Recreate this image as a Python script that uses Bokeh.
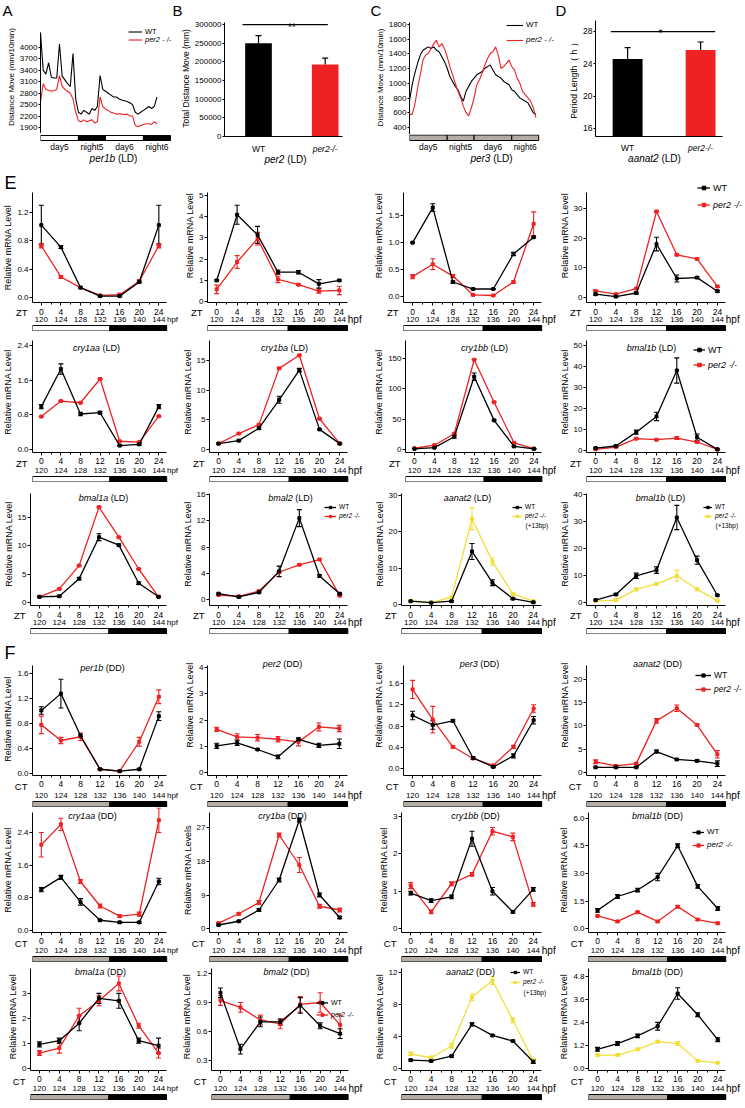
from bokeh.plotting import figure
from bokeh.layouts import row, column
from bokeh.models import (Range1d, FixedTicker, Label, Legend, LegendItem, Title,
                          Whisker, ColumnDataSource, TeeHead, NumeralTickFormatter)
from bokeh.core.properties import value
from bokeh.embed import file_html
from bokeh.resources import INLINE

FONT = "Liberation Sans"
BLACK = "#000000"
RED = "#ee2222"
YEL = "#f2de3a"
GRAY = "#b3aca4"

# ---------------------------------------------------------------- data
ZT = [0, 4, 8, 12, 16, 20, 24]
HPF = [120, 124, 128, 132, 136, 140, 144]
LIGHTS_OFF = 14

A_HOURS = list(range(44))
A_WT = [4390, 3400, 3300, 3600, 3220, 3200, 3200, 4090, 3250, 3150, 3050, 2980, 3840, 2650,
        2300, 2250, 2350, 2300, 2250, 2400, 2350, 2450, 3265, 2900, 2850, 2800, 2750, 2700,
        2700, 2650, 2620, 2600, 2580, 2550, 2500, 2300, 2250, 2300, 2350, 2400, 2450, 2400,
        2450, 2700]
A_MUT = [2580, 3050, 2900, 2880, 2850, 2870, 2900, 3260, 2980, 2900, 2850, 2800, 2650, 2300,
         2080, 2050, 2100, 2050, 2080, 2100, 2020, 2050, 2700, 2450, 2380, 2350, 2300, 2280,
         2250, 2260, 2250, 2240, 2250, 2200, 2200, 1950, 1920, 1950, 1980, 2000, 2000, 1980,
         2050, 2000]
A_YTICKS = [1900, 2200, 2500, 2800, 3100, 3400, 3700, 4000]
PHASE_EDGES = [0, 14, 24, 38, 48]
PHASE_NAMES = ["day5", "night5", "day6", "night6"]

B_GROUPS = ["WT", "per2-/-"]
B_MEAN = [250000, 193000]
B_SD = [20000, 17000]
B_YTICKS = [0, 50000, 100000, 150000, 200000, 250000, 300000]

C_HOURS = list(range(48))
C_WT = [760, 982, 1138, 1272, 1384, 1451, 1473, 1496, 1473, 1496, 1451, 1429, 1362, 1295,
        1205, 1093, 1026, 959, 914, 825, 758, 892, 959, 1026, 1071, 1116, 1138, 1160, 1205,
        1227, 1250, 1183, 1116, 1093, 1071, 1026, 1004, 982, 914, 892, 847, 803, 780, 758,
        735, 668, 601, 579]
C_MUT = [579, 579, 713, 937, 1116, 1317, 1384, 1406, 1473, 1540, 1585, 1496, 1540, 1473,
         1362, 1227, 1116, 1004, 892, 803, 691, 601, 557, 668, 803, 982, 1049, 1138, 1250,
         1339, 1406, 1429, 1496, 1384, 1205, 1227, 1272, 1317, 1227, 1183, 1071, 1004, 892,
         847, 803, 758, 668, 534]
C_YTICKS = [400, 600, 800, 1000, 1200, 1400, 1600, 1800]

D_MEAN = [24.6, 25.7]
D_SD = [1.4, 1.0]
D_YTICKS = [16, 20, 24, 28]

# E: LD
E_PER1B_WT = [1.02, 0.71, 0.14, 0.02, 0.02, 0.22, 1.02]
E_PER1B_WT_SD = [0.28, 0.02, 0.01, 0.01, 0.01, 0.01, 0.28]
E_PER1B_MUT = [0.73, 0.29, 0.14, 0.03, 0.04, 0.23, 0.73]
E_PER1B_MUT_SD = [0.03, 0.02, 0.01, 0.01, 0.02, 0.02, 0.03]

E_PER2_WT = [0.99, 4.09, 3.14, 1.38, 1.38, 0.83, 0.99]
E_PER2_WT_SD = [0.03, 0.45, 0.40, 0.10, 0.08, 0.20, 0.03]
E_PER2_MUT = [0.57, 1.86, 2.96, 1.04, 0.79, 0.49, 0.52]
E_PER2_MUT_SD = [0.20, 0.30, 0.30, 0.15, 0.04, 0.10, 0.20]

E_PER3_WT = [1.00, 1.65, 0.27, 0.14, 0.14, 0.79, 1.10]
E_PER3_WT_SD = [0.01, 0.07, 0.02, 0.01, 0.01, 0.03, 0.01]
E_PER3_MUT = [0.37, 0.60, 0.38, 0.03, 0.02, 0.27, 1.35]
E_PER3_MUT_SD = [0.04, 0.10, 0.03, 0.01, 0.01, 0.02, 0.22]

E_AANAT2_WT = [1.1, 0.3, 1.5, 18.0, 6.4, 6.7, 2.1]
E_AANAT2_WT_SD = [0.3, 0.2, 0.3, 2.3, 1.2, 0.3, 0.3]
E_AANAT2_MUT = [2.2, 1.1, 3.0, 29.0, 14.4, 13.0, 3.7]
E_AANAT2_MUT_SD = [0.2, 0.2, 0.2, 0.3, 0.3, 0.3, 0.3]

E_CRY1AA_WT = [0.99, 1.86, 0.82, 0.85, 0.09, 0.12, 0.99]
E_CRY1AA_WT_SD = [0.05, 0.12, 0.04, 0.03, 0.01, 0.02, 0.05]
E_CRY1AA_MUT = [0.76, 1.12, 1.08, 1.63, 0.19, 0.17, 0.77]
E_CRY1AA_MUT_SD = [0.01, 0.01, 0.01, 0.01, 0.01, 0.01, 0.01]

E_CRY1BA_WT = [1.0, 1.5, 3.6, 8.4, 13.4, 3.4, 1.0]
E_CRY1BA_WT_SD = [0.1, 0.1, 0.2, 0.6, 0.3, 0.1, 0.1]
E_CRY1BA_MUT = [1.0, 2.7, 4.2, 13.7, 15.9, 5.2, 1.0]
E_CRY1BA_MUT_SD = [0.1, 0.1, 0.1, 0.1, 0.1, 0.1, 0.1]

E_CRY1BB_WT = [1, 3, 21, 120, 48, 5, 1]
E_CRY1BB_WT_SD = [0.5, 0.5, 2, 6, 1, 0.5, 0.5]
E_CRY1BB_MUT = [2, 7, 26, 148, 78, 11, 1.5]
E_CRY1BB_MUT_SD = [0.5, 0.5, 0.5, 0.5, 0.5, 0.5, 0.5]

E_BMAL1B_WT = [1.1, 2.1, 8.7, 16.2, 38.1, 6.3, 0.5]
E_BMAL1B_WT_SD = [0.3, 0.3, 1.0, 2.0, 6.0, 1.5, 0.3]
E_BMAL1B_MUT = [0.5, 1.6, 5.6, 5.1, 5.9, 4.0, 0.5]
E_BMAL1B_MUT_SD = [0.2, 0.2, 0.3, 0.3, 0.7, 0.3, 0.2]

E_BMAL1A_WT = [1.0, 1.1, 4.2, 11.5, 10.1, 3.4, 1.0]
E_BMAL1A_WT_SD = [0.1, 0.1, 0.2, 0.6, 0.2, 0.2, 0.1]
E_BMAL1A_MUT = [1.0, 2.4, 6.5, 16.8, 11.5, 5.9, 1.0]
E_BMAL1A_MUT_SD = [0.1, 0.1, 0.1, 0.1, 0.1, 0.1, 0.1]

E_BMAL2_WT = [0.9, 0.4, 1.1, 4.3, 12.4, 3.6, 0.9]
E_BMAL2_WT_SD = [0.1, 0.1, 0.1, 0.8, 1.3, 0.2, 0.1]
E_BMAL2_MUT = [0.7, 0.5, 1.3, 4.2, 5.3, 6.1, 0.6]
E_BMAL2_MUT_SD = [0.1, 0.1, 0.1, 0.1, 0.1, 0.1, 0.1]

E_AANAT2B_WT = [0.9, 0.5, 0.9, 14.6, 6.0, 1.6, 0.6]
E_AANAT2B_WT_SD = [0.2, 0.1, 0.2, 2.2, 0.8, 0.2, 0.2]
E_AANAT2B_MUT = [1.0, 0.5, 2.0, 23.6, 11.8, 2.9, 0.9]
E_AANAT2B_MUT_SD = [0.2, 0.1, 0.3, 3.0, 1.0, 0.3, 0.2]

E_BMAL1BB_WT = [0.9, 3.0, 9.9, 12.0, 31.5, 15.7, 2.7]
E_BMAL1BB_WT_SD = [0.3, 0.3, 1.0, 1.2, 4.5, 1.5, 0.3]
E_BMAL1BB_MUT = [0.6, 0.9, 4.9, 6.9, 9.9, 4.9, 0.7]
E_BMAL1BB_MUT_SD = [0.2, 0.2, 0.5, 0.5, 2.0, 0.4, 0.2]

# F: DD
F_PER1B_WT = [1.01, 1.28, 0.61, 0.07, 0.04, 0.07, 0.92]
F_PER1B_WT_SD = [0.06, 0.23, 0.02, 0.01, 0.01, 0.01, 0.07]
F_PER1B_MUT = [0.78, 0.53, 0.59, 0.07, 0.04, 0.51, 1.23]
F_PER1B_MUT_SD = [0.14, 0.05, 0.06, 0.01, 0.01, 0.07, 0.11]

F_PER2_WT = [1.02, 1.13, 0.88, 0.60, 1.27, 1.04, 1.10]
F_PER2_WT_SD = [0.10, 0.10, 0.03, 0.07, 0.05, 0.08, 0.18]
F_PER2_MUT = [1.65, 1.36, 1.33, 1.27, 1.17, 1.74, 1.68]
F_PER2_MUT_SD = [0.08, 0.12, 0.12, 0.10, 0.15, 0.15, 0.12]

F_PER3_WT = [1.00, 0.82, 0.90, 0.20, 0.03, 0.24, 0.91]
F_PER3_WT_SD = [0.08, 0.08, 0.02, 0.02, 0.01, 0.04, 0.07]
F_PER3_MUT = [1.49, 0.92, 0.41, 0.19, 0.06, 0.41, 1.13]
F_PER3_MUT_SD = [0.17, 0.25, 0.02, 0.02, 0.01, 0.03, 0.07]

F_AANAT2_WT = [1.1, 1.1, 1.1, 4.5, 2.8, 2.5, 1.9]
F_AANAT2_WT_SD = [0.1, 0.1, 0.1, 0.3, 0.1, 0.2, 0.6]
F_AANAT2_MUT = [2.3, 1.4, 1.9, 11.1, 13.8, 10.2, 3.9]
F_AANAT2_MUT_SD = [0.4, 0.2, 0.2, 0.5, 0.7, 0.2, 0.8]

F_CRY1AA_WT = [1.0, 1.3, 0.7, 0.25, 0.2, 0.2, 1.2]
F_CRY1AA_WT_SD = [0.05, 0.05, 0.08, 0.02, 0.02, 0.02, 0.08]
F_CRY1AA_MUT = [2.1, 2.6, 1.2, 0.6, 0.35, 0.4, 2.7]
F_CRY1AA_MUT_SD = [0.3, 0.15, 0.05, 0.05, 0.03, 0.05, 0.3]

F_CRY1BA_WT = [1, 2, 5, 13, 29, 9, 3]
F_CRY1BA_WT_SD = [0.2, 0.2, 0.3, 0.5, 0.5, 0.5, 0.3]
F_CRY1BA_MUT = [1.5, 4, 7, 25, 17, 6, 5]
F_CRY1BA_MUT_SD = [0.2, 0.3, 0.5, 0.5, 2, 0.5, 0.5]

F_CRY1BB_WT = [0.95, 0.75, 0.85, 2.4, 1.0, 0.45, 1.05]
F_CRY1BB_WT_SD = [0.05, 0.05, 0.05, 0.2, 0.1, 0.03, 0.05]
F_CRY1BB_MUT = [1.15, 0.45, 1.2, 1.45, 2.6, 2.45, 0.65]
F_CRY1BB_MUT_SD = [0.08, 0.05, 0.05, 0.05, 0.1, 0.1, 0.05]

F_BMAL1B_WT = [1.0, 1.75, 2.1, 2.8, 4.5, 2.3, 1.1]
F_BMAL1B_WT_SD = [0.1, 0.1, 0.1, 0.2, 0.1, 0.1, 0.1]
F_BMAL1B_MUT = [0.7, 0.4, 0.9, 0.4, 1.2, 0.5, 0.3]
F_BMAL1B_MUT_SD = [0.05, 0.05, 0.05, 0.05, 0.05, 0.05, 0.05]

F_BMAL1A_WT = [0.95, 1.1, 1.8, 2.8, 2.7, 1.1, 0.9]
F_BMAL1A_WT_SD = [0.1, 0.1, 0.3, 0.2, 0.3, 0.1, 0.3]
F_BMAL1A_MUT = [0.6, 0.8, 2.1, 2.7, 3.4, 1.7, 0.6]
F_BMAL1A_MUT_SD = [0.1, 0.2, 0.3, 0.2, 0.3, 0.1, 0.2]

F_BMAL2_WT = [1.0, 0.42, 0.7, 0.7, 0.87, 0.66, 0.58]
F_BMAL2_WT_SD = [0.05, 0.05, 0.05, 0.03, 0.08, 0.03, 0.05]
F_BMAL2_MUT = [0.92, 0.85, 0.72, 0.68, 0.88, 0.9, 0.67]
F_BMAL2_MUT_SD = [0.05, 0.05, 0.05, 0.05, 0.08, 0.1, 0.1]

F_AANAT2B_WT = [1.0, 0.9, 1.5, 5.5, 4.1, 3.4, 0.8]
F_AANAT2B_WT_SD = [0.1, 0.1, 0.1, 0.2, 0.1, 0.1, 0.2]
F_AANAT2B_MUT = [1.8, 1.3, 2.8, 8.9, 11.0, 6.0, 0.9]
F_AANAT2B_MUT_SD = [0.2, 0.2, 0.3, 0.4, 0.5, 0.3, 0.3]

F_BMAL1BB_WT = [1.0, 1.3, 1.7, 2.2, 3.9, 2.8, 1.5]
F_BMAL1BB_WT_SD = [0.1, 0.1, 0.1, 0.2, 0.3, 0.1, 0.1]
F_BMAL1BB_MUT = [0.7, 0.7, 1.0, 1.4, 1.3, 0.4, 0.3]
F_BMAL1BB_MUT_SD = [0.05, 0.05, 0.05, 0.05, 0.1, 0.05, 0.03]

# ---------------------------------------------------------------- geometry (page px)
COL_X = [0, 179, 371, 556]
COL_W = [179, 192, 185, 189]
FRAME_W = [136, 140, 140, 139]
LEFTS = [30, 28, 30, 30]
HPF_FS = [8, 10, 10, 10]
X_LO, X_HI = -1.8, 25.6
BOT = 4

# (fig top, frame top, frame bottom, bar bottom, title y)
ROW_E1 = (168, 192, 302, 331, None)
ROW_E2 = (331, 340, 452, 482, 347)
ROW_E3 = (482, 493, 605, 634, 497)
ROW_F1 = (634, 665, 775, 807, 663)
ROW_F2 = (807, 812, 932, 962, 815)
ROW_F3 = (962, 968, 1070, 1100, 971)

CW = {' ': .278, '(': .333, ')': .333, '-': .333, '/': .278, '+': .584, 'L': .556,
      'D': .722, 'T': .611, 'W': .944, 'a': .556, 'b': .556, 'c': .5, 'e': .556, 'i': .222,
      'l': .222, 'm': .833, 'n': .556, 'p': .556, 'r': .333, 't': .278, 'y': .5, 'C': .722}


def text_w(s, size):
    return sum(CW.get(ch, 0.556) for ch in s) * size


def base_fig(width, height, xr, yr, left, right, top, bottom, xaxis=True, yaxis=True):
    p = figure(width=width, height=height, x_range=xr, y_range=yr, title=None,
               output_backend="svg", toolbar_location=None,
               x_axis_location="below" if xaxis else None,
               y_axis_location="left" if yaxis else None,
               min_border_left=left, min_border_right=right,
               min_border_top=top, min_border_bottom=bottom)
    p.grid.visible = False
    p.outline_line_color = None
    p.background_fill_color = "white"
    p.border_fill_color = "white"
    return p


def style_axis(ax, label_size="8px", tick_out=3):
    ax.axis_line_color = BLACK
    ax.axis_line_width = 1
    ax.major_tick_line_color = BLACK
    ax.minor_tick_line_color = BLACK
    ax.major_tick_in = 0
    ax.major_tick_out = tick_out
    ax.minor_tick_in = 0
    ax.minor_tick_out = 2
    ax.major_label_standoff = 1
    ax.major_label_text_font = FONT
    ax.major_label_text_font_size = label_size
    ax.major_label_text_color = BLACK
    ax.axis_label_text_font = FONT
    ax.axis_label_text_font_size = "9px"
    ax.axis_label_text_font_style = "normal"
    ax.axis_label_text_color = BLACK
    ax.axis_label_standoff = 1


def add_label(p, text, x, y, size, italic=False, align="left", baseline="middle",
              x_units="screen", y_units="screen", y_offset=0):
    p.add_layout(Label(x=x, y=y, x_units=x_units, y_units=y_units, text=text,
                       text_font=FONT, text_font_size=f"{size}px",
                       text_font_style="italic" if italic else "normal",
                       text_align=align, text_baseline=baseline, text_color=BLACK,
                       y_offset=y_offset))


def add_title(p, gene, cond, cx, y, size):
    wg = text_w(gene, size)
    total = wg + text_w(" (" + cond + ")", size)
    x0 = cx - total / 2
    add_label(p, gene, x0, y, size, italic=True)
    add_label(p, "(" + cond + ")", x0 + wg + text_w(" ", size), y, size)


def add_texts(s, xs, y, texts, size, align="center", italic=False):
    s.text(x=xs, y=[y] * len(xs), text=texts, text_font=value(FONT),
           text_font_size=value(f"{size}px"), text_align=align, text_baseline="middle",
           text_font_style="italic" if italic else "normal", text_color=BLACK)


def add_legend(p, renderers, label, x, y, size, glyph_w, italic):
    lg = Legend(items=[LegendItem(label=label, renderers=renderers)], location=(x, y),
                background_fill_alpha=0, border_line_color=None, padding=0, margin=0,
                spacing=0, label_text_font=FONT, label_text_font_size=f"{size}px",
                label_text_font_style="italic" if italic else "normal",
                label_text_color=BLACK, glyph_width=glyph_w, glyph_height=int(size),
                label_height=int(size), label_standoff=3)
    p.add_layout(lg)


def add_series(p, mean, sd, color):
    src = ColumnDataSource(dict(x=ZT, y=mean,
                                lo=[m - s for m, s in zip(mean, sd)],
                                hi=[m + s for m, s in zip(mean, sd)]))
    p.add_layout(Whisker(source=src, base="x", lower="lo", upper="hi", line_color=color,
                         line_width=1.1,
                         upper_head=TeeHead(size=5, line_color=color, line_width=1.1),
                         lower_head=TeeHead(size=5, line_color=color, line_width=1.1)))
    ln = p.line("x", "y", source=src, line_color=color, line_width=1.3)
    sc = p.scatter("x", "y", source=src, marker="square", size=3, color=color)
    return [ln, sc]


def gene_panel(col, geom, spec):
    fig_top, frame_top, frame_bot, bar_bot, title_y = geom
    W, FW, L = COL_W[col], FRAME_W[col], LEFTS[col]
    R = W - L - FW
    k = (X_HI - X_LO) / FW
    tb = spec.get("top_border", 0)
    act_top = fig_top + tb
    lo, hi = spec["yr"]
    u = (hi - lo) / (frame_bot - frame_top)
    hi_ext = hi + (frame_top - act_top) * u
    main_h = frame_bot - fig_top + BOT
    xr = Range1d(X_LO, X_HI + R * k)
    p = base_fig(W, main_h, xr, Range1d(lo, hi_ext), L, 0, tb, BOT)
    xa = p.xaxis[0]
    style_axis(xa, "1px")
    xa.major_label_text_color = None
    xa.major_label_standoff = 0
    xa.bounds = (X_LO, X_HI)
    xa.ticker = FixedTicker(ticks=ZT, minor_ticks=[(a + b) / 2 for a, b in zip(ZT[:-1], ZT[1:])])
    ya = p.yaxis[0]
    style_axis(ya)
    ya.bounds = (lo, hi)
    ya.ticker = FixedTicker(ticks=spec["yticks"])
    ya.formatter = NumeralTickFormatter(format=spec["fmt"])
    ya.axis_label = spec.get("ylabel", "Relative mRNA Level")

    mut_color = spec.get("mut_color", RED)
    mut_r = add_series(p, spec["mut"], spec["mut_sd"], mut_color)
    wt_r = add_series(p, spec["wt"], spec["wt_sd"], BLACK)

    fl_abs = COL_X[col] + L
    ty = spec.get("ty", title_y)
    if ty is not None:
        add_title(p, spec["gene"], spec["cond"], spec["tcx"] - fl_abs, frame_bot - ty, 9)
    if "letter" in spec:
        p.add_layout(Title(text=spec["letter"], align="left", offset=2 - L, standoff=0,
                           vertical_align="bottom", text_font=FONT, text_font_size="18px",
                           text_font_style="normal", text_color=BLACK), "above")
    lg = spec.get("legend")
    if lg:
        gx, cys, size, gw = lg[:4]
        add_legend(p, wt_r, "WT", gx - fl_abs, frame_bot - cys[0] - size / 2, size, gw, False)
        add_legend(p, mut_r, "per2 -/-", gx - fl_abs, frame_bot - cys[1] - size / 2, size, gw,
                   True)
        if len(lg) > 4:
            add_label(p, "(+13bp)", gx - fl_abs + gw + 3, frame_bot - lg[4], size)

    # strip under the axis: ZT/CT tick labels, hpf labels and light/dark bar
    S = bar_bot - frame_bot - BOT
    y_zt = round(S - 4.5)
    s = base_fig(W, S, xr, Range1d(0, S), L, 0, 0, 0, xaxis=False)
    dd = spec["cond"] == "DD"
    sy = s.yaxis[0]
    style_axis(sy, "9.5px", 0)
    sy.axis_line_color = None
    sy.major_tick_line_color = None
    sy.minor_tick_line_color = None
    sy.minor_tick_out = 0
    sy.major_label_standoff = 5
    sy.ticker = FixedTicker(ticks=[y_zt])
    sy.major_label_overrides = {y_zt: "CT" if dd else "ZT"}
    add_texts(s, ZT, y_zt, [str(z) for z in ZT], 8.5)
    add_texts(s, ZT, 12, [str(h) for h in HPF], 8)
    add_texts(s, [X_HI + 0.3 * k], 12, ["hpf"], HPF_FS[col], align="left")
    s.quad(left=[X_LO, LIGHTS_OFF], right=[LIGHTS_OFF, X_HI], bottom=[0.5, 0.5], top=[6, 6],
           fill_color=[GRAY if dd else "white", BLACK], line_color=BLACK, line_width=1)
    return column(p, s, spacing=0)


def spec(gene, cond, tcx, wt, wt_sd, mut, mut_sd, yr, yticks, fmt, **kw):
    d = dict(gene=gene, cond=cond, tcx=tcx, wt=wt, wt_sd=wt_sd, mut=mut, mut_sd=mut_sd,
             yr=yr, yticks=yticks, fmt=fmt)
    d.update(kw)
    return d


ROWS = [
    (ROW_E1, [
        spec("per1b", "LD", 0, E_PER1B_WT, E_PER1B_WT_SD, E_PER1B_MUT, E_PER1B_MUT_SD,
             (-0.07, 1.48), [0.0, 0.4, 0.8, 1.2], "0.0", letter="E", top_border=24),
        spec("per2", "LD", 0, E_PER2_WT, E_PER2_WT_SD, E_PER2_MUT, E_PER2_MUT_SD,
             (-0.05, 5.14), [0, 1, 2, 3, 4, 5], "0"),
        spec("per3", "LD", 0, E_PER3_WT, E_PER3_WT_SD, E_PER3_MUT, E_PER3_MUT_SD,
             (-0.11, 1.93), [0.0, 0.5, 1.0, 1.5], "0.0"),
        spec("aanat2", "LD", 0, E_AANAT2_WT, E_AANAT2_WT_SD, E_AANAT2_MUT, E_AANAT2_MUT_SD,
             (-1.7, 35.4), [0, 10, 20, 30], "0", legend=(697, (188, 205), 9, 13)),
    ]),
    (ROW_E2, [
        spec("cry1aa", "LD", 94, E_CRY1AA_WT, E_CRY1AA_WT_SD, E_CRY1AA_MUT, E_CRY1AA_MUT_SD,
             (-0.07, 2.52), [0.0, 0.8, 1.6, 2.4], "0.0"),
        spec("cry1ba", "LD", 282, E_CRY1BA_WT, E_CRY1BA_WT_SD, E_CRY1BA_MUT, E_CRY1BA_MUT_SD,
             (-0.5, 18.4), [0, 5, 10, 15], "0"),
        spec("cry1bb", "LD", 480, E_CRY1BB_WT, E_CRY1BB_WT_SD, E_CRY1BB_MUT, E_CRY1BB_MUT_SD,
             (-5, 179.7), [0, 50, 100, 150], "0"),
        spec("bmal1b", "LD", 651, E_BMAL1B_WT, E_BMAL1B_WT_SD, E_BMAL1B_MUT, E_BMAL1B_MUT_SD,
             (-1, 52.4), [0, 10, 20, 30, 40, 50], "0", legend=(693, (350, 365), 9, 12)),
    ]),
    (ROW_E3, [
        spec("bmal1a", "LD", 103, E_BMAL1A_WT, E_BMAL1A_WT_SD, E_BMAL1A_MUT, E_BMAL1A_MUT_SD,
             (-0.53, 19.2), [0, 5, 10, 15], "0"),
        spec("bmal2", "LD", 288, E_BMAL2_WT, E_BMAL2_WT_SD, E_BMAL2_MUT, E_BMAL2_MUT_SD,
             (-0.9, 16.15), [0, 4, 8, 12, 16], "0", legend=(322, (507, 516), 6.5, 12)),
        spec("aanat2", "LD", 467, E_AANAT2B_WT, E_AANAT2B_WT_SD, E_AANAT2B_MUT,
             E_AANAT2B_MUT_SD, (-0.28, 30.55), [0, 10, 20, 30], "0", mut_color=YEL,
             legend=(512, (507, 516), 6.5, 10, 525)),
        spec("bmal1b", "LD", 660, E_BMAL1BB_WT, E_BMAL1BB_WT_SD, E_BMAL1BB_MUT,
             E_BMAL1BB_MUT_SD, (-1.1, 40.4), [0, 10, 20, 30, 40], "0", mut_color=YEL,
             legend=(703, (507, 516), 6.5, 9, 525)),
    ]),
    (ROW_F1, [
        spec("per1b", "DD", 100, F_PER1B_WT, F_PER1B_WT_SD, F_PER1B_MUT, F_PER1B_MUT_SD,
             (-0.03, 1.73), [0.0, 0.4, 0.8, 1.2, 1.6], "0.0", letter="F", top_border=28,
             ty=667),
        spec("per2", "DD", 282, F_PER2_WT, F_PER2_WT_SD, F_PER2_MUT, F_PER2_MUT_SD,
             (-0.11, 4.08), [0, 1, 2, 3, 4], "0"),
        spec("per3", "DD", 477, F_PER3_WT, F_PER3_WT_SD, F_PER3_MUT, F_PER3_MUT_SD,
             (-0.13, 1.94), [0.0, 0.4, 0.8, 1.2, 1.6], "0.0"),
        spec("aanat2", "DD", 657, F_AANAT2_WT, F_AANAT2_WT_SD, F_AANAT2_MUT, F_AANAT2_MUT_SD,
             (-0.65, 23.0), [0, 5, 10, 15, 20], "0", legend=(695, (676, 690), 8.5, 16)),
    ]),
    (ROW_F2, [
        spec("cry1aa", "DD", 90, F_CRY1AA_WT, F_CRY1AA_WT_SD, F_CRY1AA_MUT, F_CRY1AA_MUT_SD,
             (-0.05, 2.89), [0.0, 0.8, 1.6, 2.4], "0.0"),
        spec("cry1ba", "DD", 280, F_CRY1BA_WT, F_CRY1BA_WT_SD, F_CRY1BA_MUT, F_CRY1BA_MUT_SD,
             (-1, 31), [0, 9, 18, 27], "0", ylabel="Relative mRNA Levels"),
        spec("cry1bb", "DD", 475, F_CRY1BB_WT, F_CRY1BB_WT_SD, F_CRY1BB_MUT, F_CRY1BB_MUT_SD,
             (-0.1, 3.1), [0, 1, 2, 3], "0"),
        spec("bmal1b", "DD", 655, F_BMAL1B_WT, F_BMAL1B_WT_SD, F_BMAL1B_MUT, F_BMAL1B_MUT_SD,
             (-0.2, 6.3), [0.0, 1.5, 3.0, 4.5, 6.0], "0.0", legend=(690, (832, 845), 8, 12)),
    ]),
    (ROW_F3, [
        spec("bmal1a", "DD", 100, F_BMAL1A_WT, F_BMAL1A_WT_SD, F_BMAL1A_MUT, F_BMAL1A_MUT_SD,
             (-0.1, 4.0), [0, 1, 2, 3], "0"),
        spec("bmal2", "DD", 282, F_BMAL2_WT, F_BMAL2_WT_SD, F_BMAL2_MUT, F_BMAL2_MUT_SD,
             (0.2, 1.25), [0.3, 0.6, 0.9, 1.2], "0.0", legend=(312, (1002, 1014), 7, 12)),
        spec("aanat2", "DD", 470, F_AANAT2B_WT, F_AANAT2B_WT_SD, F_AANAT2B_MUT,
             F_AANAT2B_MUT_SD, (-0.3, 12.5), [0, 4, 8, 12], "0", mut_color=YEL,
             legend=(510, (972, 982), 6.5, 10, 992)),
        spec("bmal1b", "DD", 655, F_BMAL1BB_WT, F_BMAL1BB_WT_SD, F_BMAL1BB_MUT,
             F_BMAL1BB_MUT_SD, (-0.1, 5.2), [0.0, 1.2, 2.4, 3.6, 4.8], "0.0", mut_color=YEL),
    ]),
]

# ---------------------------------------------------------------- letters A-D
TOP_Y = 20
letters = base_fig(745, TOP_Y, Range1d(0, 745), Range1d(0, TOP_Y), 0, 0, 0, 0,
                   xaxis=False, yaxis=False)
letters.text(x=[2, 172, 370, 555], y=[TOP_Y / 2] * 4, text=["A", "B", "C", "D"],
             text_font=value(FONT), text_font_size=value("15px"), text_align="left",
             text_baseline="middle", text_color=BLACK)

phase_mid = [(a + b) / 2 for a, b in zip(PHASE_EDGES[:-1], PHASE_EDGES[1:])]

# A ------------------------------------------------
WA, LA, FWA = 176, 40, 130
RA = WA - LA - FWA
kA = (PHASE_EDGES[-1] - PHASE_EDGES[0]) / FWA
xrA = Range1d(PHASE_EDGES[0], PHASE_EDGES[-1] + RA * kA)
uA = (4000 - 1900) / 80
pa = base_fig(WA, 133 - TOP_Y, xrA, Range1d(1900 - 6 * uA, 4000 + (47 - TOP_Y) * uA),
              LA, 0, 0, 0, xaxis=False)
ya = pa.yaxis[0]
style_axis(ya, "8px", 2)
ya.axis_label_text_font_size = "8px"
ya.ticker = FixedTicker(ticks=A_YTICKS)
ya.bounds = (1900 - 6 * uA, 4000 + 15 * uA)
ya.axis_label = "Distance Move (mm/10min)"
rA_wt = pa.line(A_HOURS, A_WT, line_color=BLACK, line_width=1.1)
rA_mu = pa.line(A_HOURS, A_MUT, line_color=RED, line_width=1.1)
add_legend(pa, [rA_wt], "WT", 88, 97, 7.5, 14, False)
add_legend(pa, [rA_mu], "per2 - /-", 88, 89, 7.5, 14, True)
sa = base_fig(WA, 168 - 133, xrA, Range1d(0, 35), LA, 0, 0, 0, xaxis=False, yaxis=False)
sa.quad(left=PHASE_EDGES[:-1], right=PHASE_EDGES[1:], bottom=28, top=33,
        fill_color=["white", BLACK, "white", BLACK], line_color=BLACK)
add_texts(sa, phase_mid, 22, PHASE_NAMES, 8.5)
add_title(sa, "per1b", "LD", 113 - LA, 10, 10)
colA = column(pa, sa, spacing=0)

# B ------------------------------------------------
bx = list(range(1, len(B_GROUPS) + 1))
XB, WB, LB, FWB = 176, 196, 48, 118
RB = WB - LB - FWB
xB0, xB1 = 0.49, 2.26
kB = (xB1 - xB0) / FWB
uB = 300000 / 112
xrB = Range1d(xB0, xB1 + RB * kB)
pb = base_fig(WB, 142 - TOP_Y, xrB, Range1d(0, 300000 + 4 * uB), LB, 0, 0, 6)
yb = pb.yaxis[0]
style_axis(yb, "8px", 2)
yb.axis_label_text_font_size = "8.5px"
yb.ticker = FixedTicker(ticks=B_YTICKS)
yb.bounds = (0, 305000)
yb.formatter = NumeralTickFormatter(format="0")
yb.axis_label = "Total Distance Move (mm)"
xb = pb.xaxis[0]
style_axis(xb, "8px", 0)
xb.ticker = FixedTicker(ticks=[])
xb.bounds = (xB0, xB1)
pb.vbar(x=bx, top=B_MEAN, width=0.4, bottom=0, fill_color=[BLACK, RED], line_color=None)
srcB = ColumnDataSource(dict(x=bx, lo=B_MEAN, hi=[m + s for m, s in zip(B_MEAN, B_SD)]))
pb.add_layout(Whisker(source=srcB, base="x", lower="lo", upper="hi", line_color=BLACK,
                      line_width=1.2, lower_head=None,
                      upper_head=TeeHead(size=6, line_color=BLACK, line_width=1.2)))
sigB = max(m + s for m, s in zip(B_MEAN, B_SD)) * 1.11
pb.segment(x0=[bx[0] - 0.24], x1=[bx[-1] + 0.04], y0=[sigB], y1=[sigB], line_color=BLACK,
           line_width=1.2)
add_label(pb, "**", sum(bx) / len(bx), sigB, 10, align="center", baseline="alphabetic",
          x_units="data", y_units="data", y_offset=-3)
sb = base_fig(WB, 26, xrB, Range1d(0, 26), LB, 0, 0, 0, xaxis=False, yaxis=False)
add_texts(sb, bx[:1], 20, B_GROUPS[:1], 8.5)
add_texts(sb, bx[1:], 20, B_GROUPS[1:], 8.5, italic=True)
add_title(sb, "per2", "LD", 285 - XB - LB, 9, 10)
colB = column(pb, sb, spacing=0)

# C ------------------------------------------------
XC, WC, LC, FWC = 372, 191, 36, 130
RC = WC - LC - FWC
kC = (PHASE_EDGES[-1] - PHASE_EDGES[0]) / FWC
xrC = Range1d(PHASE_EDGES[0], PHASE_EDGES[-1] + RC * kC)
uC = (1800 - 400) / 103
pc = base_fig(WC, 134 - TOP_Y, xrC, Range1d(400 - 7 * uC, 1800 + (24 - TOP_Y) * uC),
              LC, 0, 0, 0, xaxis=False)
yc = pc.yaxis[0]
style_axis(yc, "8px", 2)
yc.axis_label_text_font_size = "8px"
yc.ticker = FixedTicker(ticks=C_YTICKS)
yc.bounds = (400 - 7 * uC, 1800 + 2 * uC)
yc.axis_label = "Distance Move (mm/10min)"
rC_wt = pc.line(C_HOURS, C_WT, line_color=BLACK, line_width=1.1)
rC_mu = pc.line(C_HOURS, C_MUT, line_color=RED, line_width=1.1)
add_legend(pc, [rC_wt], "WT", 97, 105, 8, 17, False)
add_legend(pc, [rC_mu], "per2 - /-", 97, 90, 8, 17, True)
sc_ = base_fig(WC, 168 - 134, xrC, Range1d(0, 34), LC, 0, 0, 0, xaxis=False, yaxis=False)
sc_.quad(left=PHASE_EDGES[:-1], right=PHASE_EDGES[1:], bottom=28, top=33.5,
         fill_color=GRAY, line_color=BLACK)
add_texts(sc_, phase_mid, 22, PHASE_NAMES, 8.5)
add_title(sc_, "per3", "LD", 490 - XC - LC, 10, 10)
colC = column(pc, sc_, spacing=0)

# D ------------------------------------------------
XD, WD, LD_, FWD = 563, 182, 32, 127
RD = WD - LD_ - FWD
xD0, xD1 = 0.56, 2.3
kD = (xD1 - xD0) / FWD
xrD = Range1d(xD0, xD1 + RD * kD)
pd_ = base_fig(WD, 138 - TOP_Y, xrD, Range1d(15.0, 29.36), LD_, 0, 0, 2)
yd = pd_.yaxis[0]
style_axis(yd, "8.5px", 2)
yd.axis_label_text_font_size = "8.5px"
yd.ticker = FixedTicker(ticks=D_YTICKS)
yd.axis_label = "Period Length（ h ）"
xd = pd_.xaxis[0]
style_axis(xd, "8px", 0)
xd.ticker = FixedTicker(ticks=[])
xd.bounds = (xD0, xD1)
pd_.vbar(x=bx, top=D_MEAN, width=0.41, bottom=0, fill_color=[BLACK, RED], line_color=None)
srcD = ColumnDataSource(dict(x=bx, lo=D_MEAN, hi=[m + s for m, s in zip(D_MEAN, D_SD)]))
pd_.add_layout(Whisker(source=srcD, base="x", lower="lo", upper="hi", line_color=BLACK,
                       line_width=1.2, lower_head=None,
                       upper_head=TeeHead(size=6, line_color=BLACK, line_width=1.2)))
sigD = max(m + s for m, s in zip(D_MEAN, D_SD)) * 1.048
pd_.segment(x0=[bx[0] - 0.23], x1=[bx[-1] + 0.2], y0=[sigD], y1=[sigD], line_color=BLACK,
            line_width=1.2)
add_label(pd_, "*", 1.45, sigD, 10, align="center", baseline="alphabetic",
          x_units="data", y_units="data", y_offset=-2)
sd_ = base_fig(WD, 30, xrD, Range1d(0, 30), LD_, 0, 0, 0, xaxis=False, yaxis=False)
add_texts(sd_, bx[:1], 21, B_GROUPS[:1], 8.5)
add_texts(sd_, bx[1:], 21, B_GROUPS[1:], 8.5, italic=True)
add_title(sd_, "aanat2", "LD", 654 - XD - LD_, 10, 10)
colD = column(pd_, sd_, spacing=0)

top_row = row(colA, colB, colC, colD, spacing=0)

rows = [letters, top_row]
for geom, specs in ROWS:
    rows.append(row(*[gene_panel(i, geom, s) for i, s in enumerate(specs)], spacing=0))

layout = column(*rows, spacing=0)
open("out.html", "w").write(file_html(layout, INLINE))
